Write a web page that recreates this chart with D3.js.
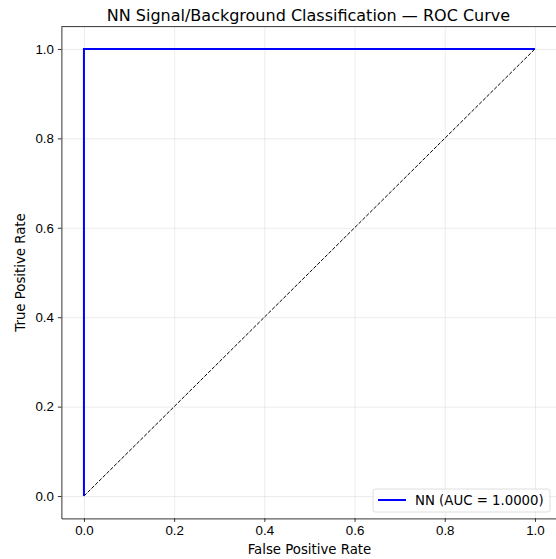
<!DOCTYPE html>
<html>
<head>
<meta charset="utf-8">
<script src="https://d3js.org/d3.v7.min.js"></script>
<style>
    body { margin: 0; background: #fff; }
    svg { display: block; font-family: "DejaVu Sans", sans-serif; }
    .grid line { stroke: #b0b0b0; stroke-opacity: 0.3; stroke-width: 0.8px; }
    .grid path { stroke-width: 0; }
    .axis text { font-size: 13.3px; fill: #000; }
    .axis path, .axis line { stroke: #000; stroke-width: 0.8px; }
</style>
</head>
<body>
<svg width="556" height="559"></svg>
<script>
    // ROC data
    const fpr = [0, 0, 1];
    const tpr = [0, 1, 1];
    const diagX = [0, 1];
    const diagY = [0, 1];
    const ticks = [0, 0.2, 0.4, 0.6, 0.8, 1.0];
    const legendLabel = "NN (AUC = 1.0000)";

    const margin = {top: 26.6, left: 61.4};
    const width = 496.1, height = 491.8;

    const svg = d3.select("svg");
    const g = svg.append("g")
        .attr("transform", `translate(${margin.left},${margin.top})`);

    const x = d3.scaleLinear().domain([-0.05, 1.05]).range([0, width]);
    const y = d3.scaleLinear().domain([-0.05, 1.05]).range([height, 0]);

    // grid
    g.append("g")
        .attr("class", "grid")
        .attr("transform", `translate(0,${height})`)
        .call(d3.axisBottom(x).tickValues(ticks).tickSize(-height).tickFormat(""));
    g.append("g")
        .attr("class", "grid")
        .call(d3.axisLeft(y).tickValues(ticks).tickSize(-width).tickFormat(""));

    // diagonal
    g.append("path")
        .datum(diagX.map((d, i) => [d, diagY[i]]))
        .attr("fill", "none")
        .attr("stroke", "#000")
        .attr("stroke-width", 1)
        .attr("stroke-dasharray", "3.7,1.6")
        .attr("d", d3.line().x(d => x(d[0])).y(d => y(d[1])));

    // ROC curve
    g.append("path")
        .datum(fpr.map((d, i) => [d, tpr[i]]))
        .attr("fill", "none")
        .attr("stroke", "#0000ff")
        .attr("stroke-width", 2)
        .attr("d", d3.line().x(d => x(d[0])).y(d => y(d[1])));

    // axes
    g.append("g")
        .attr("class", "axis")
        .attr("transform", `translate(0,${height})`)
        .call(d3.axisBottom(x).tickValues(ticks).tickSize(3.5).tickSizeOuter(0).tickPadding(4).tickFormat(d3.format(".1f")));
    g.append("g")
        .attr("class", "axis")
        .call(d3.axisLeft(y).tickValues(ticks).tickSize(3.5).tickSizeOuter(0).tickPadding(4).tickFormat(d3.format(".1f")));

    // top/right spines
    g.append("line").attr("x1", 0).attr("x2", width).attr("y1", 0).attr("y2", 0)
        .attr("stroke", "#000").attr("stroke-width", 0.8);
    g.append("line").attr("x1", width).attr("x2", width).attr("y1", 0).attr("y2", height)
        .attr("stroke", "#000").attr("stroke-width", 0.8);

    // labels
    svg.append("text")
        .attr("x", margin.left + width / 2)
        .attr("y", 554)
        .attr("text-anchor", "middle")
        .style("font-size", "13.3px")
        .text("False Positive Rate");
    svg.append("text")
        .attr("transform", `translate(25,${margin.top + height / 2}) rotate(-90)`)
        .attr("text-anchor", "middle")
        .style("font-size", "13.3px")
        .text("True Positive Rate");
    svg.append("text")
        .attr("x", margin.left + width / 2 - 1)
        .attr("y", 20.5)
        .attr("text-anchor", "middle")
        .style("font-size", "16px")
        .text("NN Signal/Background Classification — ROC Curve");

    // legend
    const legend = g.append("g")
        .attr("transform", `translate(${373 - margin.left},${489 - margin.top})`);
    legend.append("rect")
        .attr("width", 177).attr("height", 23).attr("rx", 2.5)
        .attr("fill", "#fff").attr("fill-opacity", 0.8)
        .attr("stroke", "#d6d6d6").attr("stroke-width", 0.8);
    legend.append("line")
        .attr("x1", 5).attr("x2", 33).attr("y1", 11).attr("y2", 11)
        .attr("stroke", "#0000ff").attr("stroke-width", 2);
    legend.append("text")
        .attr("x", 42).attr("y", 16)
        .style("font-size", "13.3px")
        .text(legendLabel);
</script>
</body>
</html>
